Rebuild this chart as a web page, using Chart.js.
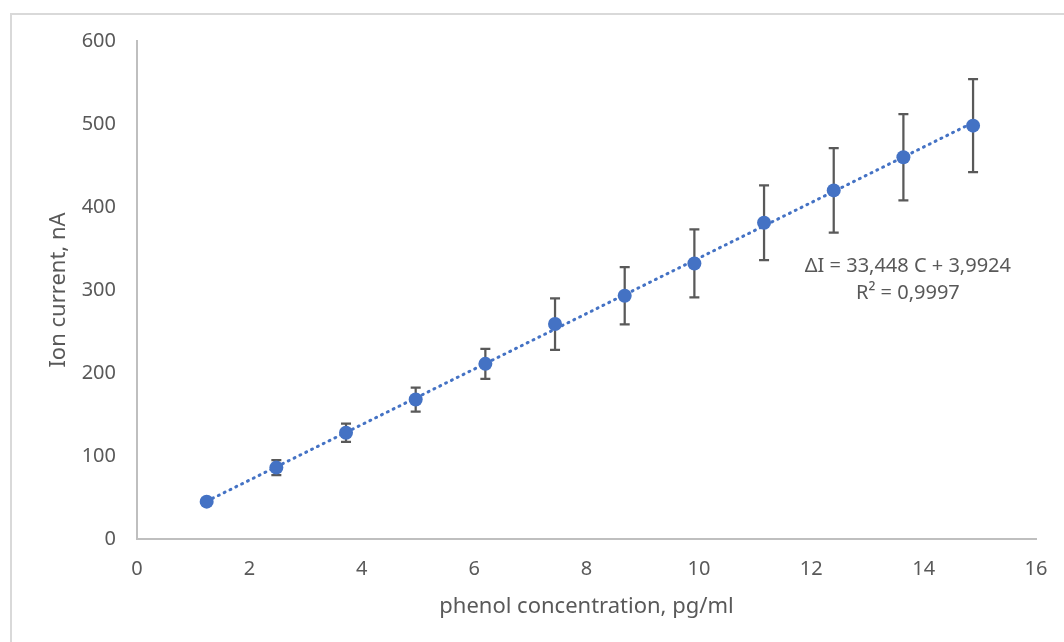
<!DOCTYPE html>
<html>
<head>
<meta charset="utf-8">
<script src="https://cdn.jsdelivr.net/npm/chart.js@4.4.1/dist/chart.umd.min.js"></script>
<style>
  html, body { margin: 0; padding: 0; background: #ffffff; overflow: hidden; }
  #wrap { position: relative; width: 1064px; height: 642px; }
  #frame { position: absolute; left: 10px; top: 13px; width: 1100px; height: 700px;
           border-left: 2px solid #d9d9d9; border-top: 2px solid #d9d9d9; box-sizing: border-box; }
  canvas { position: absolute; left: 0; top: 0; }
</style>
</head>
<body>
<div id="wrap">
  <div id="frame"></div>
  <canvas id="chart" width="1064" height="642"></canvas>
</div>
<script>
// Phenol calibration: concentration (pg/ml) vs ion current (nA)
const concentration = [1.24, 2.48, 3.72, 4.96, 6.20, 7.44, 8.68, 9.92, 11.16, 12.40, 13.64, 14.88];
const ionCurrent    = [45, 86, 128, 168, 211, 259, 293, 332, 381, 420, 460, 498];
const currentError  = [4, 9, 11, 14.5, 18, 31, 34.5, 41, 45, 51, 52, 56];

// Linear fit reported on the chart
const fitSlope = 33.448;
const fitIntercept = 3.9924;
const fitR2 = '0,9997';
const fitLabel = ['ΔI = 33,448 C + 3,9924', 'R² = ' + fitR2];

const xTicks = [0, 2, 4, 6, 8, 10, 12, 14, 16];
const yTicks = [0, 100, 200, 300, 400, 500, 600];

const FONT = '"Noto Sans", "Open Sans", sans-serif';
const TEXT = '#595959';
const AXIS = '#bfbfbf';

const points = concentration.map((c, i) => ({ x: c, y: ionCurrent[i] }));
const xFirst = concentration[0], xLast = concentration[concentration.length - 1];
const trend = [
  { x: xFirst, y: fitSlope * xFirst + fitIntercept },
  { x: xLast,  y: fitSlope * xLast + fitIntercept }
];

// Vertical error bars with caps, drawn beneath the markers
const errorBars = {
  id: 'errorBars',
  beforeDatasetsDraw(chart) {
    const { ctx, scales: { x, y } } = chart;
    ctx.save();
    ctx.strokeStyle = '#595959';
    ctx.lineWidth = 2.25;
    concentration.forEach((c, i) => {
      const px = x.getPixelForValue(c);
      const top = y.getPixelForValue(ionCurrent[i] + currentError[i]);
      const bot = y.getPixelForValue(ionCurrent[i] - currentError[i]);
      ctx.beginPath();
      ctx.moveTo(px, top); ctx.lineTo(px, bot);
      ctx.moveTo(px - 5, top); ctx.lineTo(px + 5, top);
      ctx.moveTo(px - 5, bot); ctx.lineTo(px + 5, bot);
      ctx.stroke();
    });
    ctx.restore();
  }
};

// Fit equation text
const equationLabel = {
  id: 'equationLabel',
  afterDatasetsDraw(chart) {
    const { ctx, scales: { x, y } } = chart;
    const px = x.getPixelForValue(13.72);
    const py = y.getPixelForValue(328);
    ctx.save();
    ctx.fillStyle = TEXT;
    ctx.font = '20px ' + FONT;
    ctx.textAlign = 'center';
    ctx.textBaseline = 'middle';
    ctx.fillText(fitLabel[0], px, py);
    ctx.fillText(fitLabel[1], px, py + 26.6);
    ctx.restore();
  }
};

new Chart(document.getElementById('chart'), {
  type: 'scatter',
  data: {
    datasets: [
      {
        label: 'trend',
        data: trend,
        showLine: true,
        borderColor: '#4472c4',
        borderWidth: 3,
        borderDash: [1, 5.5],
        borderCapStyle: 'round',
        pointRadius: 0,
        pointHoverRadius: 0,
        order: 2
      },
      {
        label: 'Ion current',
        data: points,
        backgroundColor: '#4472c4',
        borderColor: '#4472c4',
        pointRadius: 7,
        pointBorderWidth: 0,
        order: 1
      }
    ]
  },
  options: {
    responsive: false,
    animation: false,
    events: [],
    layout: { padding: { left: 0, top: 41, right: 28, bottom: 0 } },
    plugins: { legend: { display: false }, tooltip: { enabled: false } },
    scales: {
      x: {
        type: 'linear',
        min: 0, max: 16,
        afterBuildTicks(s) { s.ticks = xTicks.map(v => ({ value: v })); },
        afterFit(s) { s.height = 103; s.paddingLeft = 0; s.paddingRight = 0; },
        grid: { display: false, drawTicks: false },
        border: { display: true, color: AXIS, width: 2 },
        ticks: { color: TEXT, font: { family: FONT, size: 20 }, padding: 18 },
        title: { display: true, text: 'phenol concentration, pg/ml', color: TEXT,
                 font: { family: FONT, size: 22 }, padding: { top: 0, bottom: 22 } }
      },
      y: {
        type: 'linear',
        min: 0, max: 600,
        afterBuildTicks(s) { s.ticks = yTicks.map(v => ({ value: v })); },
        afterFit(s) { s.width = 137; },
        grid: { display: false, drawTicks: false },
        border: { display: true, color: AXIS, width: 2 },
        ticks: { color: TEXT, font: { family: FONT, size: 20 }, padding: 21 },
        title: { display: true, text: 'Ion current, nA', color: TEXT,
                 font: { family: FONT, size: 22 }, padding: { top: 46, bottom: 0 } }
      }
    }
  },
  plugins: [errorBars, equationLabel]
});
</script>
</body>
</html>
